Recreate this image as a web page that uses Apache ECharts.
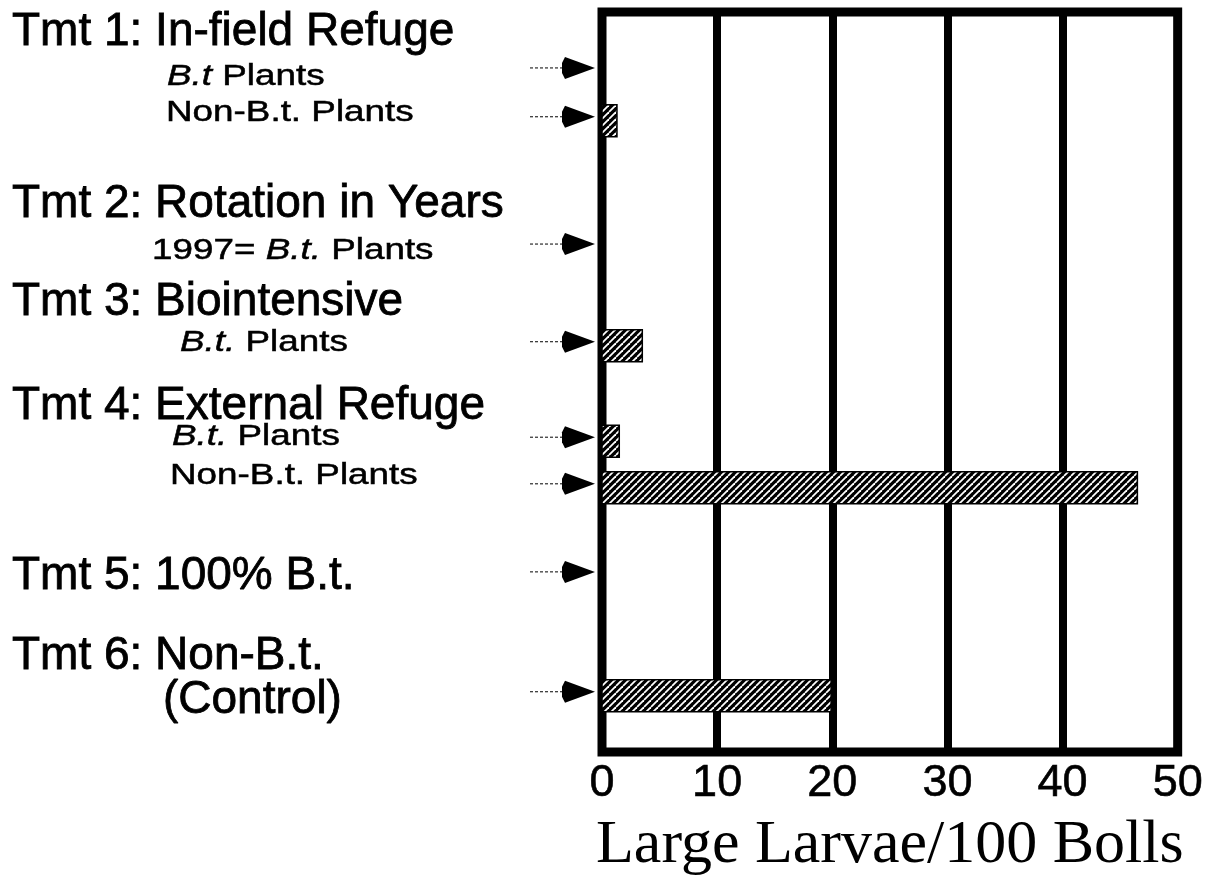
<!DOCTYPE html>
<html>
<head>
<meta charset="utf-8">
<script src="https://cdn.jsdelivr.net/npm/echarts@6/dist/echarts.min.js"></script>
<style>
  html, body { margin: 0; padding: 0; background: #fff; }
  #chart { width: 1206px; height: 894px; }
</style>
</head>
<body>
<div id="chart"></div>
<script>
// ---------- DATA ----------
const categories = [
  'Tmt 1 B.t. Plants',
  'Tmt 1 Non-B.t. Plants',
  'Tmt 2 1997 = B.t. Plants',
  'Tmt 3 B.t. Plants',
  'Tmt 4 B.t. Plants',
  'Tmt 4 Non-B.t. Plants',
  'Tmt 5 100% B.t.',
  'Tmt 6 Non-B.t. (Control)'
];
const larvaePer100Bolls = [0, 1.3, 0, 3.5, 1.5, 46.5, 0, 19.9];
const xTickValues = [0, 10, 20, 30, 40, 50];
const axisTitle = 'Large Larvae/100 Bolls';

const treatmentHeadings = [
  'Tmt 1: In-field Refuge',
  'Tmt 2: Rotation in Years',
  'Tmt 3: Biointensive',
  'Tmt 4: External Refuge',
  'Tmt 5: 100% B.t.',
  'Tmt 6: Non-B.t.',
  '(Control)'
];
const subLabels = [
  '{i|B.t} Plants',
  'Non-B.t. Plants',
  '1997= {i|B.t.} Plants',
  '{i|B.t.} Plants',
  '{i|B.t.} Plants',
  'Non-B.t. Plants'
];

// ---------- LAYOUT (row placement along hidden y axis, 0 = top, 100 = bottom) ----------
const rowPos = [8.1, 14.7, 31.9, 45.1, 58.0, 64.3, 76.2, 92.4];
const headingLayout = [[12, 32], [12, 204], [12, 302], [12, 406], [12, 576], [12, 656], [163, 700]];
const subLayout = [[167, 77], [166, 113], [152, 251], [180, 343], [172, 437], [170, 476]];

// hatch pattern
function makeHatch() {
  const s = 7;
  const c = document.createElement('canvas');
  c.width = s; c.height = s;
  const g = c.getContext('2d');
  g.fillStyle = '#000';
  g.fillRect(0, 0, s, s);
  g.strokeStyle = '#fff';
  g.lineWidth = 1.8;
  g.lineCap = 'butt';
  for (let k = -1; k <= 1; k++) {
    g.beginPath();
    g.moveTo(k * s, s);
    g.lineTo(k * s + s, 0);
    g.stroke();
  }
  return c;
}
const hatch = { image: makeHatch(), repeat: 'repeat' };

const seriesData = larvaePer100Bolls.map((v, i) => [v, rowPos[i], categories[i]]);

const sansFont = 'Liberation Sans';
const graphics = [];
treatmentHeadings.forEach((t, i) => {
  graphics.push({
    type: 'text', x: headingLayout[i][0], y: headingLayout[i][1],
    style: { text: t, fontFamily: sansFont, fontSize: 46, fill: '#000', stroke: '#000', lineWidth: 0.8, verticalAlign: 'middle', align: 'left' }
  });
});
subLabels.forEach((t, i) => {
  graphics.push({
    type: 'text', x: subLayout[i][0], y: subLayout[i][1], scaleX: 1.27,
    style: {
      text: t, fontFamily: sansFont, fontSize: 29, fill: '#000', stroke: '#000', lineWidth: 0.5, verticalAlign: 'middle', align: 'left',
      rich: { i: { fontFamily: sansFont, fontSize: 29, fontStyle: 'italic', fill: '#000', stroke: '#000', lineWidth: 0.5 } }
    }
  });
});

const chart = echarts.init(document.getElementById('chart'), null, { renderer: 'canvas' });
chart.setOption({
  backgroundColor: '#fff',
  animation: false,
  grid: { left: 602, top: 12, width: 581, height: 740, show: true, borderColor: '#000', borderWidth: 9, backgroundColor: 'transparent' },
  xAxis: {
    type: 'value', min: xTickValues[0], max: xTickValues[xTickValues.length - 1], interval: 10,
    axisLine: { show: false }, axisTick: { show: false },
    splitLine: { show: true, lineStyle: { color: '#000', width: 8 } },
    axisLabel: { fontFamily: sansFont, fontSize: 45, color: '#000', margin: 32, verticalAlign: 'middle', textBorderColor: '#000', textBorderWidth: 0.6 },
    name: axisTitle, nameLocation: 'middle', nameGap: 94,
    nameTextStyle: { fontFamily: 'Liberation Serif', fontSize: 62, color: '#000', verticalAlign: 'middle' }
  },
  yAxis: { type: 'value', min: 0, max: 100, inverse: true, show: false, splitLine: { show: false } },
  graphic: graphics,
  series: [{
    type: 'custom',
    clip: false,
    encode: { x: 0, y: 1 },
    data: seriesData,
    renderItem: function (params, api) {
      const v = api.value(0), pos = api.value(1);
      const p0 = api.coord([0, pos]);
      const p1 = api.coord([v, pos]);
      const h = 32;
      const ay = p0[1] - 4, tip = p0[0] - 7;
      const children = [
        { type: 'line', shape: { x1: tip - 65, y1: ay, x2: tip - 29, y2: ay }, style: { stroke: '#000', lineWidth: 1, lineDash: [3, 2] } },
        { type: 'polygon', shape: { points: [[tip, ay], [tip - 30, ay - 11], [tip - 33, ay - 5], [tip - 33, ay + 5], [tip - 30, ay + 11]] }, style: { fill: '#000' } }
      ];
      if (v > 0) {
        children.push({ type: 'rect', shape: { x: p0[0], y: p1[1] - h / 2, width: p1[0] - p0[0], height: h }, style: { fill: hatch, stroke: '#000', lineWidth: 1.5 } });
      }
      return { type: 'group', children: children };
    }
  }]
});
</script>
</body>
</html>
